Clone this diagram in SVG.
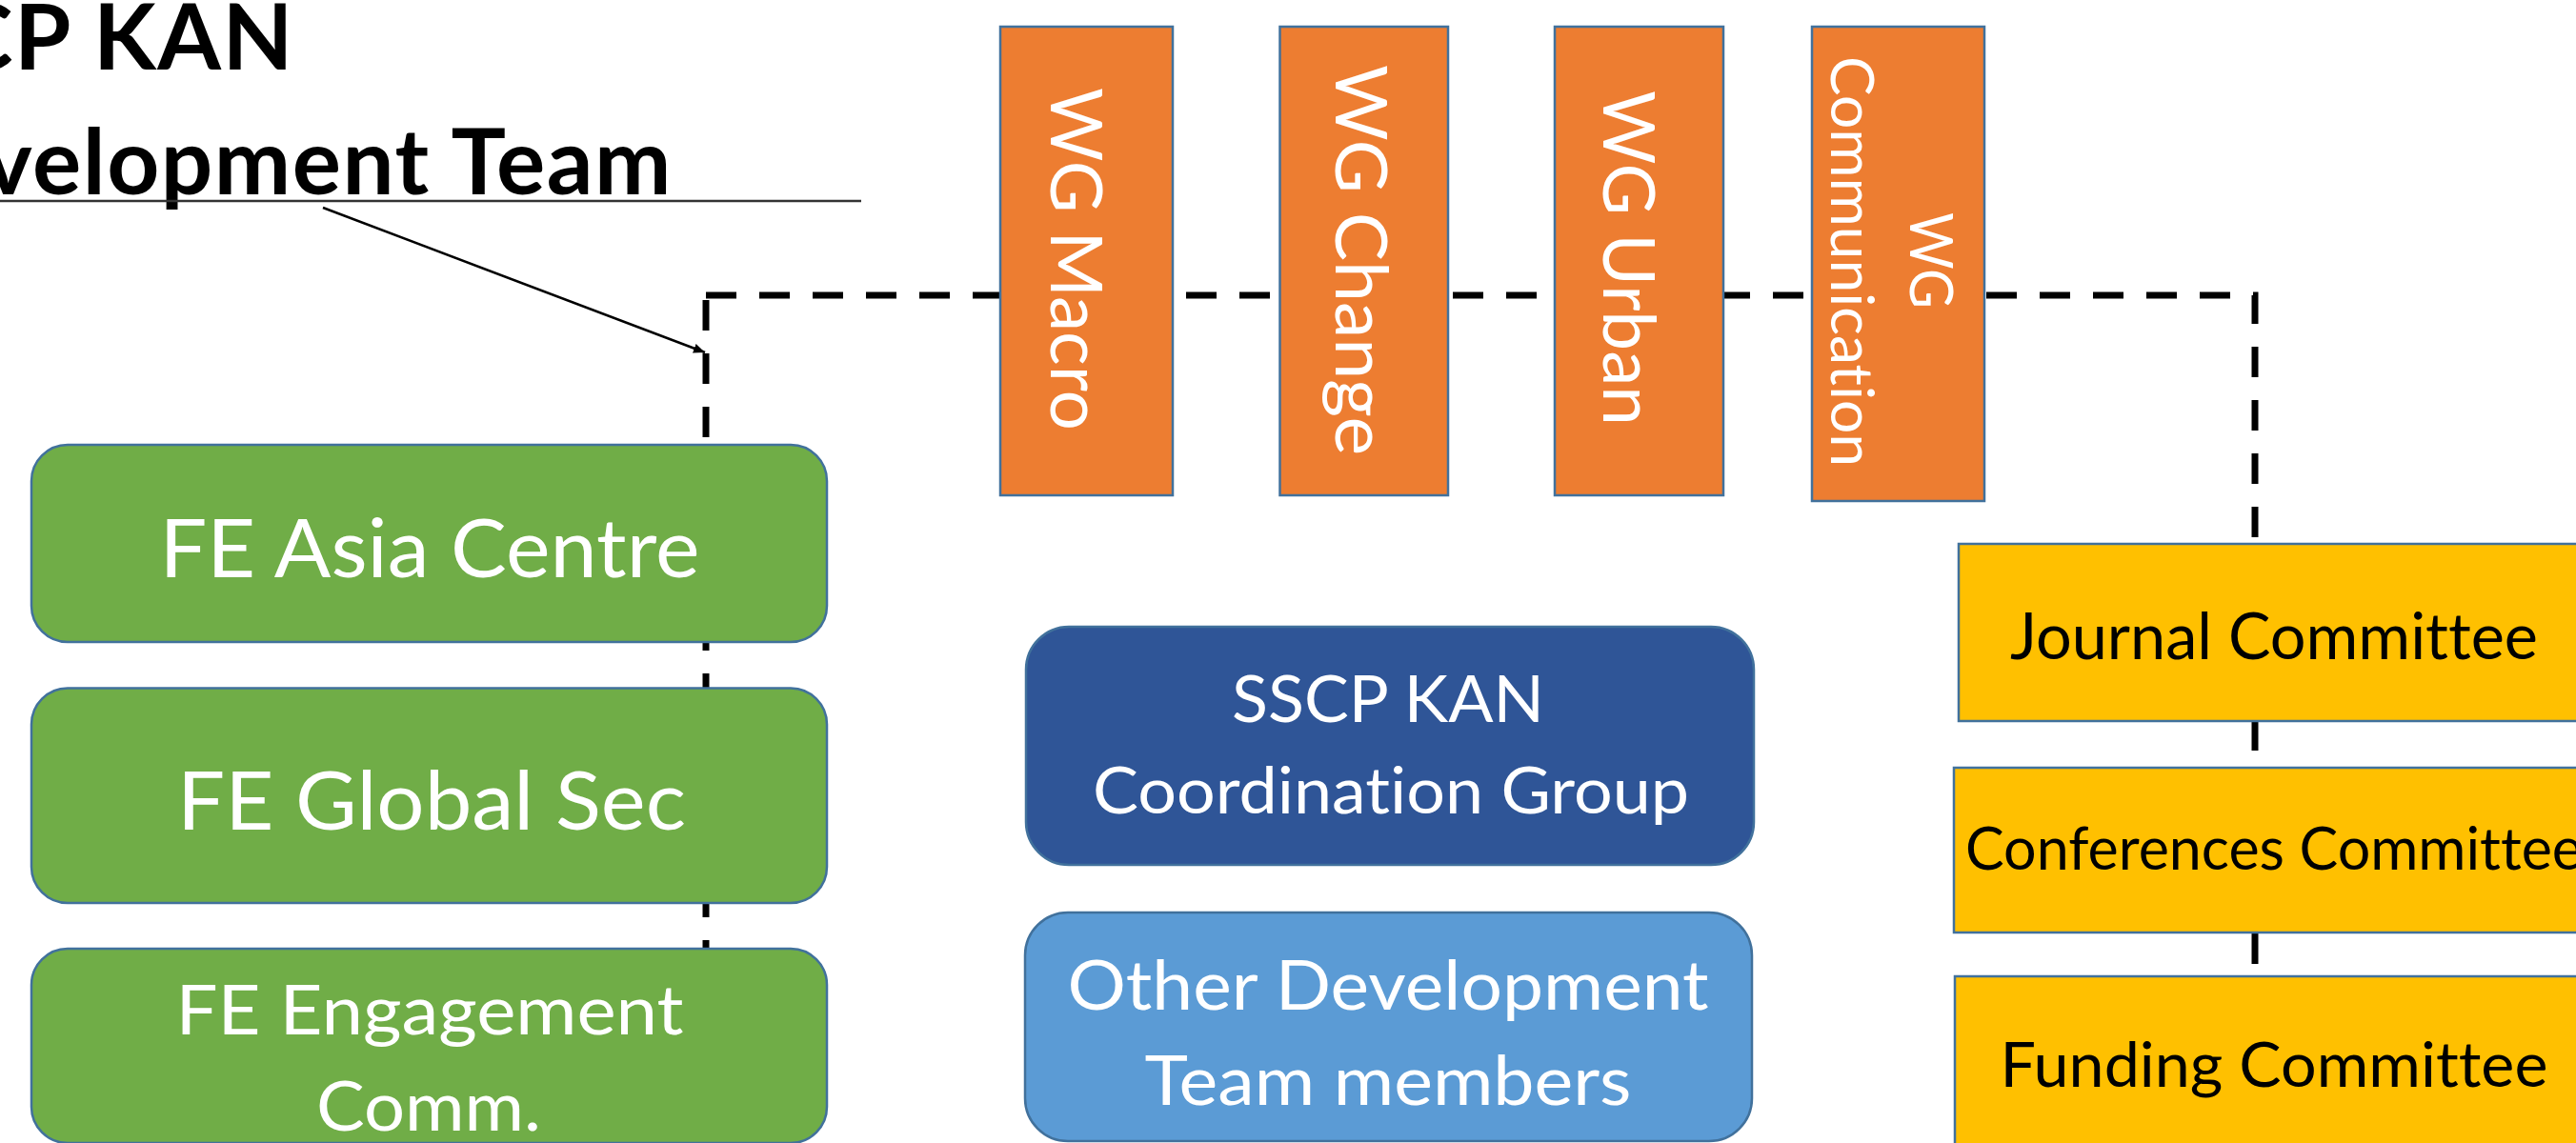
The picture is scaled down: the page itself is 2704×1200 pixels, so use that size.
<svg xmlns="http://www.w3.org/2000/svg" width="2704" height="1200" viewBox="0 0 2704 1200">
<defs>
<style>
text{font-variant-ligatures:none;font-feature-settings:"liga" 0,"clig" 0,"dlig" 0}
.box{stroke:#41719C;stroke-width:2.5}
.green{fill:#70AD47}
.orange{fill:#ED7D31}
.dblue{fill:#2F5597}
.lblue{fill:#5B9BD5}
.yellow{fill:#FFC000}
.t{font-family:Lato,"Open Sans","Liberation Sans",sans-serif;text-anchor:middle}
.w{fill:#FFFFFF}
.k{fill:#000000}
.title{font-family:Lato,"Liberation Sans",sans-serif;font-weight:700;font-size:96px;letter-spacing:1.5px;fill:#000;text-anchor:end}
.dash{fill:none;stroke:#000;stroke-width:7;stroke-dasharray:32 24}
</style>
<marker id="arr" markerUnits="userSpaceOnUse" markerWidth="14" markerHeight="12" refX="12" refY="5" orient="auto">
<path d="M0,0 L12,5 L0,10 Z" fill="#000"/>
</marker>
</defs>
<rect width="2704" height="1200" fill="#FFFFFF"/>

<g id="connectors">
<path class="dash" d="M741,310 H2367 V1160"/>
<path class="dash" d="M741,315 V1160"/>
<line x1="339" y1="218" x2="740" y2="370" stroke="#000" stroke-width="2.5" marker-end="url(#arr)"/>
</g>

<g id="title">
<text class="title" x="309" y="73">SSCP KAN</text>
<text class="title" x="706" y="204">Development Team</text>
<line x1="0" y1="211" x2="904" y2="211" stroke="#333" stroke-width="2.5"/>
</g>

<g id="wg-macro">
<rect class="box orange" x="1050" y="28" width="181" height="492"/>
<text class="t w" font-size="75" textLength="360" lengthAdjust="spacingAndGlyphs" transform="translate(1103,272) rotate(90)">WG Macro</text>
</g>
<g id="wg-change">
<rect class="box orange" x="1343.5" y="28" width="176.5" height="492"/>
<text class="t w" font-size="75" textLength="410" lengthAdjust="spacingAndGlyphs" transform="translate(1402,273) rotate(90)">WG Change</text>
</g>
<g id="wg-urban">
<rect class="box orange" x="1632" y="28" width="177" height="492"/>
<text class="t w" font-size="75" textLength="352" lengthAdjust="spacingAndGlyphs" transform="translate(1683,271) rotate(90)">WG Urban</text>
</g>
<g id="wg-communication">
<rect class="box orange" x="1902" y="28" width="181" height="498"/>
<text class="t w" font-size="61" textLength="101" lengthAdjust="spacingAndGlyphs" transform="translate(2005,273.5) rotate(90)">WG</text>
<text class="t w" font-size="61" textLength="431" lengthAdjust="spacingAndGlyphs" transform="translate(1922,274.5) rotate(90)">Communication</text>
</g>

<g id="fe-asia-centre">
<rect class="box green" x="33" y="467" width="835" height="207" rx="38" ry="38"/>
<text class="t w" x="451" y="606" font-size="85" textLength="567" lengthAdjust="spacingAndGlyphs">FE Asia Centre</text>
</g>
<g id="fe-global-sec">
<rect class="box green" x="33" y="722.5" width="835" height="225.5" rx="38" ry="38"/>
<text class="t w" x="453" y="871" font-size="85" textLength="534" lengthAdjust="spacingAndGlyphs">FE Global Sec</text>
</g>
<g id="fe-engagement-comm">
<rect class="box green" x="33" y="996" width="835" height="204" rx="38" ry="38"/>
<text class="t w" x="451" y="1086" font-size="72" textLength="533" lengthAdjust="spacingAndGlyphs">FE Engagement</text>
<text class="t w" x="450" y="1187" font-size="72" textLength="236" lengthAdjust="spacingAndGlyphs">Comm.</text>
</g>

<g id="coordination-group">
<rect class="box dblue" x="1077" y="658" width="764" height="250" rx="45" ry="45"/>
<text class="t w" x="1457" y="758" font-size="68" textLength="328" lengthAdjust="spacingAndGlyphs">SSCP KAN</text>
<text class="t w" x="1460" y="854" font-size="68" textLength="626" lengthAdjust="spacingAndGlyphs">Coordination Group</text>
</g>
<g id="other-members">
<rect class="box lblue" x="1076" y="958" width="763" height="240" rx="45" ry="45"/>
<text class="t w" x="1457" y="1060" font-size="72" textLength="673" lengthAdjust="spacingAndGlyphs">Other Development</text>
<text class="t w" x="1457" y="1160" font-size="72" textLength="511" lengthAdjust="spacingAndGlyphs">Team members</text>
</g>

<g id="journal-committee">
<rect class="box yellow" x="2056" y="571" width="670" height="186"/>
<text class="t k" x="2387" y="692" font-size="68" textLength="554" lengthAdjust="spacingAndGlyphs">Journal Committee</text>
</g>
<g id="conferences-committee">
<rect class="box yellow" x="2051" y="806" width="675" height="173"/>
<text class="t k" x="2387" y="913" font-size="62" textLength="648" lengthAdjust="spacingAndGlyphs">Conferences Committee</text>
</g>
<g id="funding-committee">
<rect class="box yellow" x="2052" y="1025" width="674" height="200"/>
<text class="t k" x="2387" y="1141" font-size="66" textLength="575" lengthAdjust="spacingAndGlyphs">Funding Committee</text>
</g>
</svg>
